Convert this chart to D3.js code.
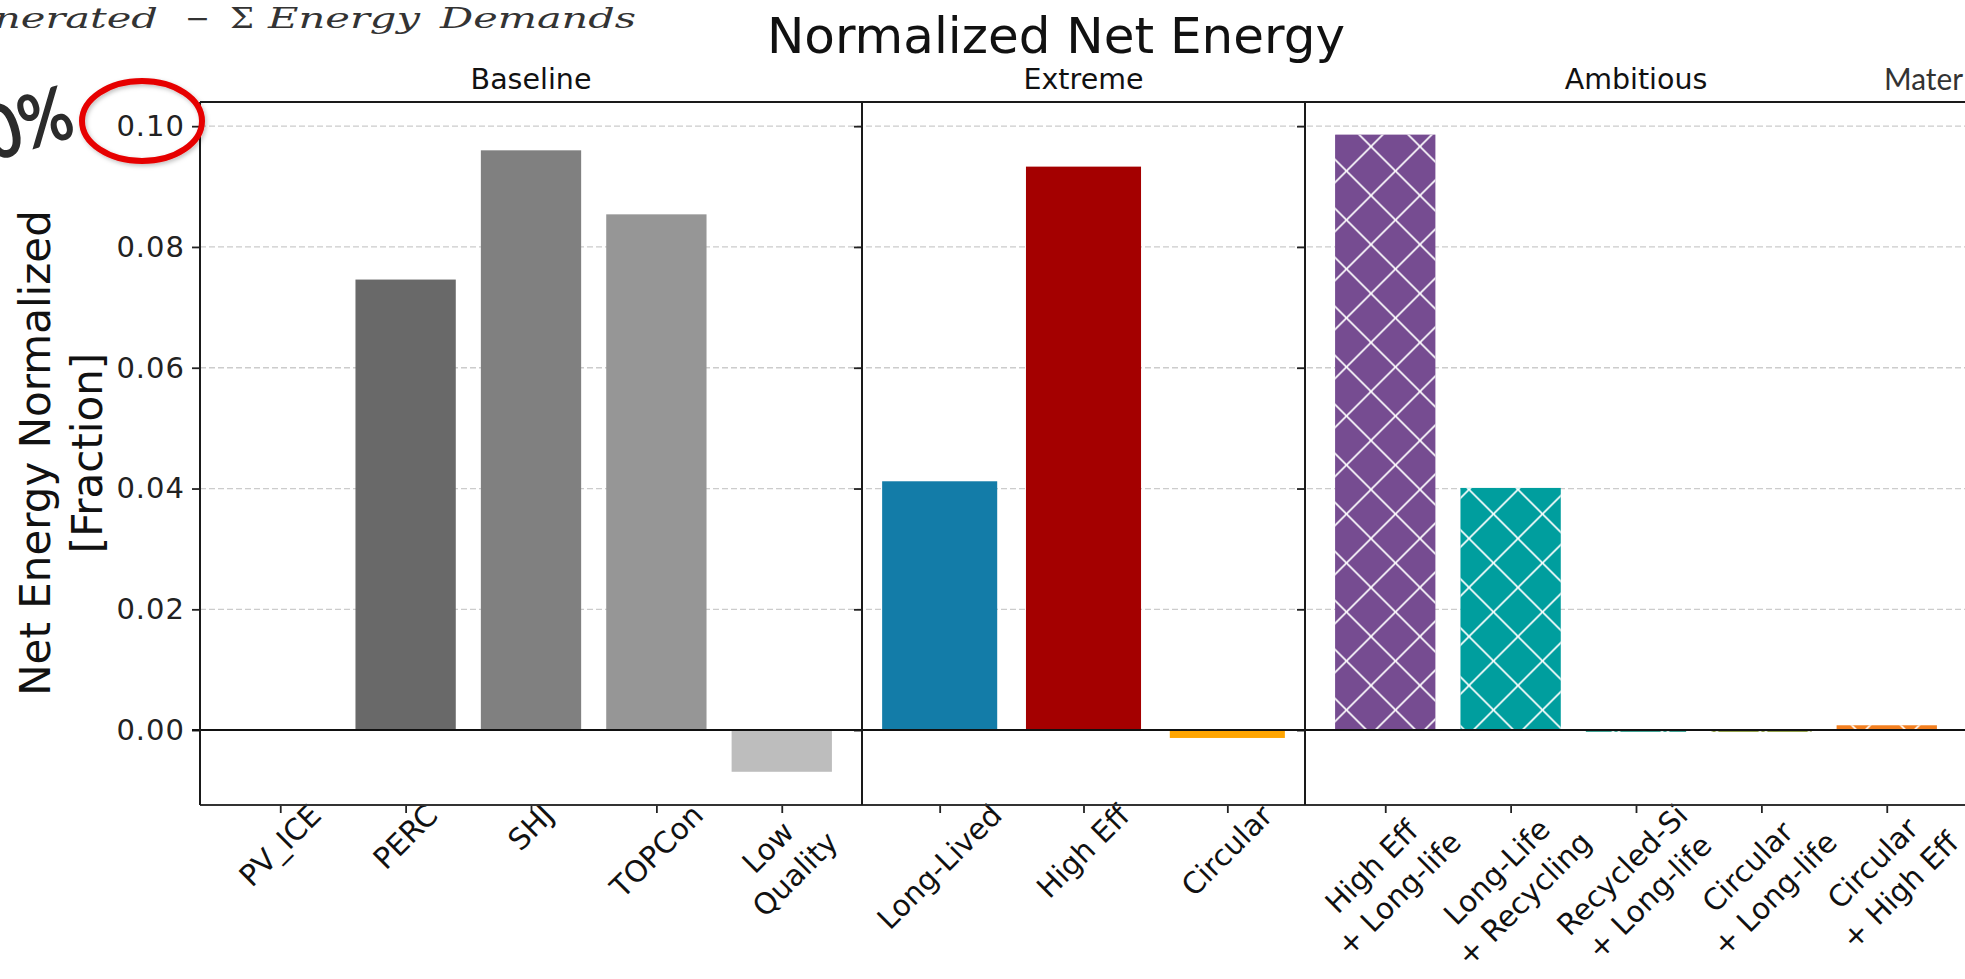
<!DOCTYPE html>
<html>
<head>
<meta charset="utf-8">
<script src="https://cdn.jsdelivr.net/npm/d3@7"></script>
<style>
  html, body { margin: 0; padding: 0; background: #ffffff; overflow: hidden; }
  svg { display: block; }
</style>
</head>
<body>
<svg id="chart" width="1965" height="979"></svg>
<script>
// ---- Data -------------------------------------------------------------
const panelTitles = ["Baseline", "Extreme", "Ambitious"];

const baselineLabels = ["PV_ICE", "PERC", "SHJ", "TOPCon", "Low\nQuality"];
const baselineValues = [0.0, 0.0746, 0.0960, 0.0854, -0.0069];
const baselineColors = ["#555555", "#696969", "#808080", "#969696", "#bdbdbd"];

const extremeLabels = ["Long-Lived", "High Eff", "Circular"];
const extremeValues = [0.0412, 0.0933, -0.0013];
const extremeColors = ["#137ca8", "#a40000", "#ffa500"];

const ambitiousLabels = ["High Eff\n+ Long-life", "Long-Life\n+ Recycling", "Recycled-Si\n+ Long-life",
                         "Circular\n+ Long-life", "Circular\n+ High Eff"];
const ambitiousValues = [0.0986, 0.0401, -0.0003, -0.0003, 0.0008];
const ambitiousColors = ["#764c91", "#009e9e", "#2f9c8c", "#8a9a3c", "#f37f1f"];

const yTickValues = [0.00, 0.02, 0.04, 0.06, 0.08, 0.10];
const yTickLabels = ["0.00", "0.02", "0.04", "0.06", "0.08", "0.10"];

// ---- Layout -----------------------------------------------------------
const W = 1965, H = 979;
const plotTop = 102, plotBottom = 805;
const panelEdges = [[200, 862], [862, 1305], [1305, 1967]];
const fontMain = "'DejaVu Sans', sans-serif";
const xTickFont = 29.5;

const svg = d3.select("#chart");

const panels = [
  { title: panelTitles[0], labels: baselineLabels, values: baselineValues, colors: baselineColors, hatch: false },
  { title: panelTitles[1], labels: extremeLabels, values: extremeValues, colors: extremeColors, hatch: false },
  { title: panelTitles[2], labels: ambitiousLabels, values: ambitiousValues, colors: ambitiousColors, hatch: true }
];

const y = d3.scaleLinear().domain([-0.0124, 0.104]).range([plotBottom, plotTop]);

// Cross-hatch pattern (white 'x' lines)
const defs = svg.append("defs");
const pat = defs.append("pattern")
  .attr("id", "xhatch")
  .attr("patternUnits", "userSpaceOnUse")
  .attr("x", 1371).attr("y", 146.5)
  .attr("width", 49).attr("height", 49);
pat.append("path")
  .attr("d", "M-6,-6 L55,55 M55,-6 L-6,55")
  .attr("stroke", "#ffffff")
  .attr("stroke-width", 1.6)
  .attr("fill", "none");

const shadow = defs.append("filter").attr("id", "softShadow")
  .attr("x", "-20%").attr("y", "-20%").attr("width", "140%").attr("height", "140%");
shadow.append("feDropShadow")
  .attr("dx", 1.5).attr("dy", 2).attr("stdDeviation", 2)
  .attr("flood-color", "#000").attr("flood-opacity", 0.25);

// ---- Grid lines -------------------------------------------------------
svg.append("g").selectAll("line")
  .data(yTickValues.filter(v => v > 0))
  .join("line")
  .attr("x1", panelEdges[0][0]).attr("x2", W)
  .attr("y1", d => y(d)).attr("y2", d => y(d))
  .attr("stroke", "#cccccc")
  .attr("stroke-width", 1.3)
  .attr("stroke-dasharray", "6,3");

// ---- Panels -----------------------------------------------------------
panels.forEach((p, pi) => {
  const [x0, x1] = panelEdges[pi];
  const n = p.values.length;
  const margin = 0.05 * (n - 1 + 0.8);
  const x = d3.scaleLinear().domain([-0.4 - margin, n - 1 + 0.4 + margin]).range([x0, x1]);
  const g = svg.append("g");

  // bars
  const bars = g.selectAll("g.bar").data(p.values).join("g").attr("class", "bar");
  bars.append("rect")
    .attr("x", (d, i) => x(i - 0.4))
    .attr("width", (d, i) => x(i + 0.4) - x(i - 0.4))
    .attr("y", d => y(Math.max(d, 0)))
    .attr("height", d => Math.abs(y(d) - y(0)))
    .attr("fill", (d, i) => p.colors[i]);
  if (p.hatch) {
    bars.append("rect")
      .attr("x", (d, i) => x(i - 0.4))
      .attr("width", (d, i) => x(i + 0.4) - x(i - 0.4))
      .attr("y", d => y(Math.max(d, 0)))
      .attr("height", d => Math.abs(y(d) - y(0)))
      .attr("fill", "url(#xhatch)");
  }

  // x ticks
  const xAxis = d3.axisBottom(x)
    .tickValues(d3.range(n))
    .tickSize(8)
    .tickFormat("");
  const ax = g.append("g").attr("transform", `translate(0,${plotBottom})`).call(xAxis);
  ax.select(".domain").remove();
  ax.selectAll(".tick line").attr("stroke", "#222").attr("stroke-width", 1.8);

  // rotated x tick labels (45°, block centred under the tick)
  p.labels.forEach((lab, i) => {
    const lines = lab.split("\n");
    const t = g.append("text")
      .attr("font-family", fontMain)
      .attr("font-size", xTickFont)
      .attr("fill", "#111")
      .attr("text-anchor", "middle");
    const lh = xTickFont * 1.3;
    lines.forEach((ln, k) => {
      t.append("tspan")
        .attr("x", 0)
        .attr("y", (k - (lines.length - 1) / 2) * lh)
        .attr("dominant-baseline", "central")
        .text(ln);
    });
    const bb = t.node().getBBox();
    const cxl = bb.x + bb.width / 2, cyl = bb.y + bb.height / 2;
    const half = (bb.width + bb.height) / (2 * Math.SQRT2);
    t.attr("transform",
      `translate(${x(i)},${plotBottom - 7 + half}) rotate(-45) translate(${-cxl},${-cyl})`);
  });

  // y ticks on each panel's left spine
  const yAxis = d3.axisLeft(y).tickValues(yTickValues).tickSize(8)
    .tickFormat((d, i) => pi === 0 ? yTickLabels[i] : "");
  const ay = g.append("g").attr("transform", `translate(${x0},0)`).call(yAxis);
  ay.select(".domain").remove();
  ay.selectAll(".tick line").attr("stroke", "#222").attr("stroke-width", 1.8);
  ay.selectAll(".tick text")
    .attr("font-family", fontMain)
    .attr("font-size", 29)
    .attr("letter-spacing", 1)
    .attr("fill", "#222")
    .attr("x", -15);

  // panel title
  svg.append("text")
    .attr("x", (x0 + x1) / 2).attr("y", 89)
    .attr("text-anchor", "middle")
    .attr("font-family", fontMain)
    .attr("font-size", 28.5)
    .attr("fill", "#111")
    .text(p.title);
});

// zero line
svg.append("line")
  .attr("x1", panelEdges[0][0] - 8).attr("x2", W)
  .attr("y1", y(0)).attr("y2", y(0))
  .attr("stroke", "#111").attr("stroke-width", 2);

// frame and panel dividers
const frame = svg.append("g").attr("stroke", "#1a1a1a").attr("stroke-width", 2).attr("fill", "none");
frame.append("line").attr("x1", panelEdges[0][0]).attr("x2", W).attr("y1", plotTop).attr("y2", plotTop);
frame.append("line").attr("x1", panelEdges[0][0]).attr("x2", W).attr("y1", plotBottom).attr("y2", plotBottom)
  .attr("stroke", "#333");
panelEdges.forEach(e => {
  frame.append("line").attr("x1", e[0]).attr("x2", e[0]).attr("y1", plotTop).attr("y2", plotBottom);
});

// ---- Titles and labels -----------------------------------------------
svg.append("text")
  .attr("x", 1056).attr("y", 52.5)
  .attr("text-anchor", "middle")
  .attr("font-family", fontMain)
  .attr("font-size", 50)
  .attr("fill", "#111")
  .text("Normalized Net Energy");

const yLabelLines = ["Net Energy Normalized", "[Fraction]"];
yLabelLines.forEach((ln, k) => {
  const cx = 50 + k * 51.5;
  svg.append("text")
    .attr("transform", `translate(${cx},453) rotate(-90)`)
    .attr("text-anchor", "middle")
    .attr("font-family", fontMain)
    .attr("font-size", 42)
    .attr("fill", "#111")
    .text(ln);
});

// next panel heading, running into the right edge
svg.append("text")
  .attr("x", 1884).attr("y", 90)
  .attr("font-family", "Lato, 'Open Sans', sans-serif")
  .attr("font-size", 31)
  .attr("fill", "#333")
  .attr("textLength", 79)
  .attr("lengthAdjust", "spacingAndGlyphs")
  .text("Mater");

// equation fragment along the top edge
const eqParts = [
  { t: "nerated", x0: -6, x1: 158, italic: true },
  { t: "−", x0: 185, x1: 210, italic: false },
  { t: "Σ", x0: 230, x1: 254, italic: false },
  { t: "Energy", x0: 268, x1: 420, italic: true },
  { t: "Demands", x0: 440, x1: 636, italic: true }
];
eqParts.forEach(e => {
  svg.append("text")
    .attr("x", e.x0).attr("y", 27.5)
    .attr("font-family", "'DejaVu Serif', 'Liberation Serif', serif")
    .attr("font-style", e.italic ? "italic" : "normal")
    .attr("font-size", 28)
    .attr("fill", "#333")
    .attr("textLength", e.x1 - e.x0)
    .attr("lengthAdjust", "spacingAndGlyphs")
    .text(e.t);
});

// highlight of the top tick value
svg.append("text")
  .attr("transform", "translate(-8,162) rotate(-17)")
  .attr("font-family", "Lato, 'Open Sans', sans-serif")
  .attr("font-weight", "bold")
  .attr("font-size", 75)
  .attr("fill", "#2b2b2b")
  .attr("textLength", 90)
  .attr("lengthAdjust", "spacingAndGlyphs")
  .text("0%");

svg.append("ellipse")
  .attr("cx", 142).attr("cy", 121)
  .attr("rx", 60).attr("ry", 40)
  .attr("fill", "none")
  .attr("stroke", "#e60000")
  .attr("stroke-width", 6)
  .attr("filter", "url(#softShadow)");
</script>
</body>
</html>
